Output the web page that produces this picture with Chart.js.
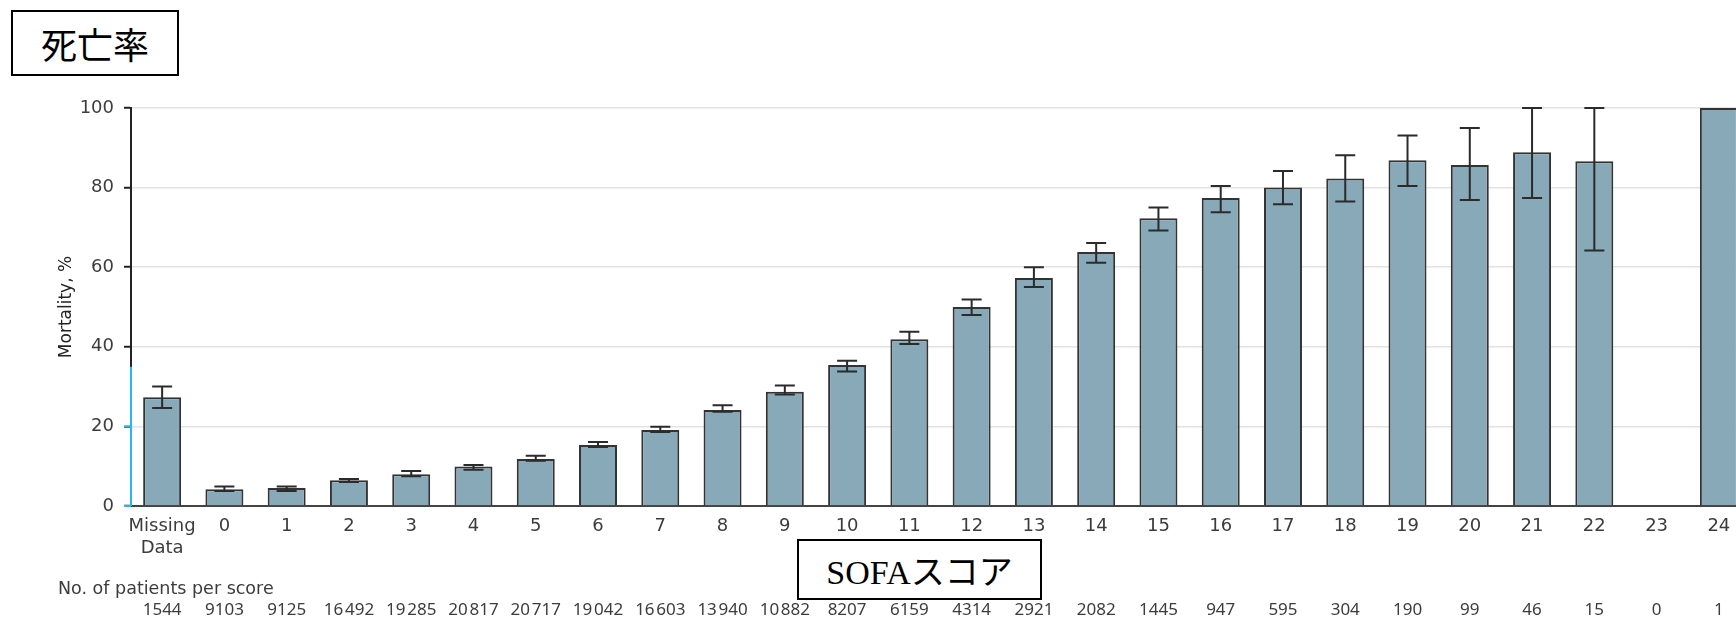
<!DOCTYPE html>
<html>
<head>
<meta charset="utf-8">
<title>死亡率</title>
<script src="https://cdn.jsdelivr.net/npm/chart.js@4.4.1/dist/chart.umd.min.js"></script>
<style>
  html, body { margin: 0; padding: 0; background: #fff; overflow: hidden; }
  #wrap { position: relative; width: 1736px; height: 619px; overflow: hidden; }
  #chart1 { position: absolute; left: 0; top: 0; }
  .box { position: absolute; z-index: 2; border: 2px solid #000; background: #fff; box-sizing: border-box;
         display: flex; align-items: center; justify-content: center; color: #000; }
  #title { left: 11px; top: 10px; width: 168px; height: 66px; font: 36px "Noto Sans CJK JP", sans-serif; }
  #xtitle { left: 797px; top: 539px; width: 245px; height: 61px; font: 34px "Liberation Serif", "Noto Sans CJK JP", serif; }
  #npat { position: absolute; z-index: 2; left: 58px; top: 578px; line-height: 20px;
          font: 17.5px "DejaVu Sans", sans-serif; color: #3c3c3c; }
</style>
</head>
<body>
<div id="wrap">
  <canvas id="chart1" width="1752" height="619"></canvas>
  <div class="box" id="title">死亡率</div>
  <div class="box" id="xtitle">SOFAスコア</div>
  <div id="npat">No. of patients per score</div>
</div>
<script>
/************* data ********* */
const xLabels = [["Missing", "Data"], "0", "1", "2", "3", "4", "5", "6", "7", "8", "9", "10", "11", "12",
                 "13", "14", "15", "16", "17", "18", "19", "20", "21", "22", "23", "24"];
const mortality = [27.3, 4.2, 4.5, 6.5, 8.0, 9.9, 11.8, 15.3, 19.1, 24.1, 28.7, 35.4, 41.9, 50.0,
                   57.3, 63.8, 72.3, 77.4, 80.0, 82.3, 86.9, 85.7, 88.9, 86.6, null, 100];
const ciLow  = [24.6, 3.8, 3.8, 6.0, 7.5, 9.1, 11.4, 14.8, 18.6, 23.7, 28.0, 33.8, 40.7, 48.0,
                55.0, 61.1, 69.2, 73.8, 75.8, 76.5, 80.4, 76.9, 77.4, 64.2, null, null];
const ciHigh = [30.0, 4.9, 4.9, 6.8, 8.8, 10.3, 12.6, 16.1, 19.9, 25.3, 30.3, 36.5, 43.8, 51.9,
                60.0, 66.1, 75.0, 80.4, 84.2, 88.1, 93.1, 95.0, 100, 100, null, null];
const patients = [1544, 9103, 9125, 16492, 19285, 20817, 20717, 19042, 16603, 13940, 10882, 8207, 6159,
                  4314, 2921, 2082, 1445, 947, 595, 304, 190, 99, 46, 15, 0, 1];
const yTicks = [0, 20, 40, 60, 80, 100];

const barColor = '#87a9b8';
const fontFamily = '"DejaVu Sans", sans-serif';
const countFont = '"Noto Sans", "Open Sans", sans-serif';
const textColor = '#3c3c3c';

// small gap in numbers >= 10000, like the journal figure
const patientLabels = patients.map(n => n >= 10000 ? String(n).slice(0, -3) + '\u200A' + String(n).slice(-3) : String(n));

/************* error bars ********* */
const errorBars = {
    id: 'errorBars',
    afterDatasetsDraw(chart) {
        const ctx = chart.ctx, xs = chart.scales.x, ys = chart.scales.y;
        ctx.save();
        ctx.strokeStyle = '#2b2b2b';
        ctx.lineWidth = 2;
        ciLow.forEach((lo, i) => {
            if (lo == null) return;
            const cx = xs.getPixelForValue(i);
            const yl = ys.getPixelForValue(lo);
            const yh = ys.getPixelForValue(ciHigh[i]);
            ctx.beginPath();
            ctx.moveTo(cx, yh); ctx.lineTo(cx, yl);
            ctx.moveTo(cx - 10, yh); ctx.lineTo(cx + 10, yh);
            ctx.moveTo(cx - 10, yl); ctx.lineTo(cx + 10, yl);
            ctx.stroke();
        });
        ctx.restore();
    }
};

// light-blue selection mark on the lower part of the y axis
const axisMark = {
    id: 'axisMark',
    afterDraw(chart) {
        const ctx = chart.ctx, ys = chart.scales.y, left = chart.chartArea.left;
        ctx.save();
        ctx.strokeStyle = '#29b5f0';
        ctx.lineWidth = 2;
        ctx.beginPath();
        ctx.moveTo(left, ys.getPixelForValue(0));
        ctx.lineTo(left, ys.getPixelForValue(35));
        [0, 20].forEach(v => {
            ctx.moveTo(left - 7, ys.getPixelForValue(v));
            ctx.lineTo(left, ys.getPixelForValue(v));
        });
        ctx.stroke();
        ctx.restore();
    }
};

new Chart("chart1", {
    type: "bar",
    data: {
        labels: xLabels,
        datasets: [{
            data: mortality,
            backgroundColor: barColor,
            borderColor: '#333',
            borderWidth: 2,
            categoryPercentage: 1,
            barPercentage: 0.61
        }]
    },
    options: {
        responsive: false,
        animation: false,
        devicePixelRatio: 1,
        layout: { padding: { top: 108, left: 0, right: 2, bottom: 0 } },
        plugins: {
            legend: { display: false },
            tooltip: { enabled: false }
        },
        scales: {
            x: {
                ticks: { color: textColor, font: { family: fontFamily, size: 18, lineHeight: 1.25 },
                         padding: 9, maxRotation: 0, autoSkip: false },
                grid: { display: false, drawTicks: false },
                border: { color: '#444', width: 2 },
                afterFit(scale) { scale.height = 88; }
            },
            x2: {
                type: 'category',
                labels: patientLabels,
                position: 'bottom',
                offset: true,
                ticks: { color: textColor, font: { family: countFont, size: 17 },
                         padding: 6, maxRotation: 0, autoSkip: false },
                grid: { display: false, drawTicks: false },
                border: { display: false },
                afterFit(scale) { scale.height = 25; }
            },
            y: {
                min: 0,
                max: 100,
                afterBuildTicks(scale) { scale.ticks = yTicks.map(v => ({ value: v })); },
                ticks: { color: textColor, font: { family: fontFamily, size: 18 }, padding: 10 },
                grid: {
                    color: c => c.tick && c.tick.value === 0 ? 'rgba(0,0,0,0)' : '#e3e3e3',
                    lineWidth: 1.5,
                    tickColor: '#222',
                    tickWidth: 2,
                    tickLength: 7
                },
                border: { color: '#222', width: 2 },
                title: {
                    display: true,
                    text: 'Mortality, %',
                    color: '#222',
                    font: { family: fontFamily, size: 17 },
                    padding: { top: 56, bottom: 0 }
                },
                afterFit(scale) { scale.width = 131; }
            }
        }
    },
    plugins: [errorBars, axisMark]
});
</script>
</body>
</html>
